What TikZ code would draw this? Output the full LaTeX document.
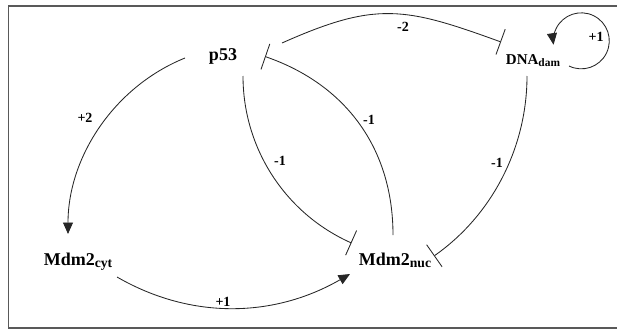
\documentclass[tikz,border=0pt]{standalone}
\usepackage{fontspec}
\setmainfont{Liberation Serif}
\usetikzlibrary{arrows.meta}
\newcommand{\lsub}[1]{\raisebox{-2.5pt}{\scalebox{0.76}{#1}}}

\begin{document}
\begin{tikzpicture}[x=1pt,y=-1pt,
  species/.style={font=\fontsize{18}{20}\selectfont\bfseries,inner sep=0pt,anchor=base},
  weight/.style={font=\fontsize{14}{16}\selectfont\bfseries,inner sep=0pt},
  act/.style={line width=0.85pt,draw=black!85,-{Triangle[length=11.5pt,width=10pt]}},
  inh/.style={line width=0.85pt,draw=black!85,-{Bar[width=27pt,line width=0.85pt]}}]
\useasboundingbox (0,0) rectangle (617,329);
\draw[line width=1.3pt,black!65] (617,6) -- (8.3,6) -- (8.3,328) -- (617,328);
\node[species] (p53) at (223,60) {p53};
\node[species,font=\fontsize{15}{17}\selectfont\bfseries] (dna) at (533,64) {DNA\lsub{dam}};
\node[species] (cyt) at (78,265) {Mdm2\lsub{cyt}};
\node[species] (nuc) at (395,265) {Mdm2\lsub{nuc}};
\draw[act] ([shift={(-38,-2)}]p53.base) to[out=202,in=90,looseness=0.93] ([shift={(-10,-31)}]cyt.base);
\draw[act] ([shift={(39,12)}]cyt.base) to[out=-30,in=210,looseness=0.95] ([shift={(-45,9)}]nuc.base);
\draw[inh] ([shift={(59,-17)}]p53.base) to[out=24,in=160,looseness=1.2] ([shift={(-32,-22)}]dna.base);
\draw[act] ([shift={(36,2)}]dna.base) arc[start angle=-116,end angle=188,radius=28pt];
\draw[inh] ([shift={(-2,-30)}]nuc.base) to[out=90,in=-19] ([shift={(42,-3.5)}]p53.base);
\draw[inh] ([shift={(20,16)}]p53.base) to[out=-90,in=156,looseness=0.93] ([shift={(-43.5,-22)}]nuc.base);
\draw[inh] ([shift={(-6,12)}]dna.base) to[out=-90,in=35,looseness=0.9] ([shift={(39,-9)}]nuc.base);
\node[weight] (w1) at (85,118) {+2};
\node[weight] (w2) at (223,302) {+1};
\node[weight] (w3) at (403,27) {-2};
\node[weight] (w4) at (596,37) {+1};
\node[weight] (w5) at (369,120) {-1};
\node[weight] (w6) at (280,161) {-1};
\node[weight] (w7) at (497,163) {-1};
\end{tikzpicture}
\end{document}
